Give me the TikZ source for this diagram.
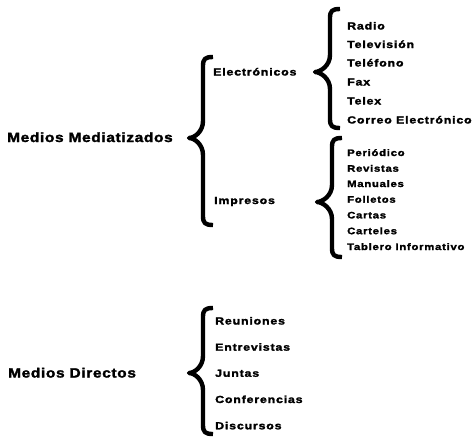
\documentclass[tikz,border=0pt]{standalone}
\usepackage{fontspec}
\newfontfamily\headfont{Liberation Sans Bold}[FakeStretch=1.15,LetterSpace=5,FakeBold=2]
\newfontfamily\itemfont{Liberation Sans Bold}[FakeStretch=1.2,LetterSpace=8,FakeBold=2]
\begin{document}
\begin{tikzpicture}[x=1pt,y=-1pt,
  bracestyle/.style={line width=4.4pt,line cap=butt,line join=round,black},
  head/.style={anchor=base west,inner sep=0pt,font=\headfont\fontsize{13.4}{15}\selectfont},
  item/.style={anchor=base west,inner sep=0pt,font=\itemfont\fontsize{10.3}{12}\selectfont},
  smallitem/.style={anchor=base west,inner sep=0pt,font=\itemfont\fontsize{9.4}{11}\selectfont}]
\useasboundingbox[fill=white] (0,0) rectangle (474,437);
\newcommand\cbrace[5]{%
  \draw[bracestyle] (#3+10,#4) .. controls (#3+2,#4) and (#3,#4+2) .. (#3,#4+9)
    -- (#3,#2-17) .. controls (#3,#2-6) and (#1+5,#2) .. (#1,#2)
    .. controls (#1+5,#2) and (#3,#2+6) .. (#3,#2+17)
    -- (#3,#5-9) .. controls (#3,#5-2) and (#3+2,#5) .. (#3+10,#5);}
% headings
\node[head] (mm) at (7,142) {Medios Mediatizados};
\node[head] (md) at (8,377.5) {Medios Directos};
% level 2
\node[item] (el) at (213,75.5) {Electrónicos};
\node[item] (im) at (214,204) {Impresos};
% electronicos
\node[item] (e1) at (347,29.5) {Radio};
\node[item] (e2) at (347,48) {Televisión};
\node[item] (e3) at (347,66.5) {Teléfono};
\node[item] (e4) at (347,85.5) {Fax};
\node[item] (e5) at (347,104.5) {Telex};
\node[item] (e6) at (347,123.5) {Correo Electrónico};
% impresos
\node[smallitem] (i1) at (347,156) {Periódico};
\node[smallitem] (i2) at (347,171.7) {Revistas};
\node[smallitem] (i3) at (347,187) {Manuales};
\node[smallitem] (i4) at (347,202.7) {Folletos};
\node[smallitem] (i5) at (347,218.4) {Cartas};
\node[smallitem] (i6) at (347,234.2) {Carteles};
\node[smallitem] (i7) at (347,250) {Tablero Informativo};
% directos
\node[item] (d1) at (215,324.5) {Reuniones};
\node[item] (d2) at (215,350.7) {Entrevistas};
\node[item] (d3) at (215,376.8) {Juntas};
\node[item] (d4) at (215,403) {Conferencias};
\node[item] (d5) at (215,429.3) {Discursos};
% braces
\cbrace{189}{138}{203}{57}{225}
\cbrace{315}{72}{330}{9}{128}
\cbrace{317}{202}{332}{138}{257}
\cbrace{189}{373}{203}{308}{434}
\end{tikzpicture}
\end{document}
